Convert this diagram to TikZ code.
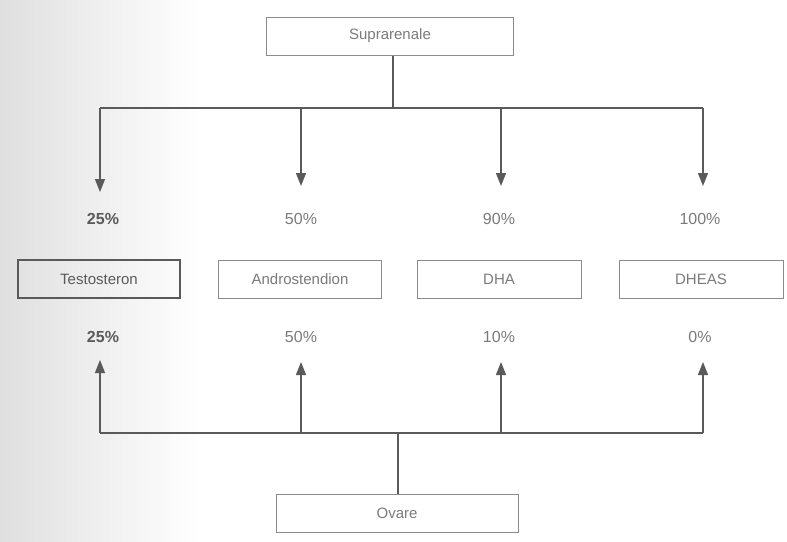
\documentclass[tikz,border=0pt]{standalone}
\usepackage{fontspec}
\setmainfont{Liberation Sans}
\usetikzlibrary{arrows.meta}
\definecolor{ink}{HTML}{5A5A5A}
\definecolor{txt}{HTML}{7A7A7A}
\begin{document}
\begin{tikzpicture}[x=1pt,y=-1pt,
  box/.style={draw=ink!70, line width=1pt, minimum height=38pt, inner sep=0pt, text=txt, font=\fontsize{15}{17}\selectfont},
  pct/.style={text=txt, font=\fontsize{16}{18}\selectfont, inner sep=0pt},
  link/.style={draw=ink, line width=1.3pt},
  arr/.style={link, -{Triangle[length=13pt,width=10pt]}}]
  % page frame and scanned gray band on the left
  \useasboundingbox (0,0) rectangle (787,541);
  \shade[left color=gray!25, right color=white] (0,0) rectangle (200,541);

  % boxes
  \node[box, minimum width=247pt] (sup) at (390,36) {Suprarenale};
  \node[box, minimum width=162pt, draw=ink, line width=1.4pt, text=ink] (tes) at (99,279) {Testosteron};
  \node[box, minimum width=163pt] (and) at (300,279) {Androstendion};
  \node[box, minimum width=164pt] (dha) at (499,279) {DHA};
  \node[box, minimum width=164pt] (dhe) at (701,279) {DHEAS};
  \node[box, minimum width=242pt] (ova) at (397,513) {Ovare};

  % percentages
  \node[pct, text=ink, font=\fontsize{16}{18}\bfseries\selectfont] (p1) at (103,219) {25\%};
  \node[pct] (p2) at (301,219) {50\%};
  \node[pct] (p3) at (499,219) {90\%};
  \node[pct] (p4) at (700,219) {100\%};
  \node[pct, text=ink, font=\fontsize{16}{18}\bfseries\selectfont] (q1) at (103,337) {25\%};
  \node[pct] (q2) at (301,337) {50\%};
  \node[pct] (q3) at (499,337) {10\%};
  \node[pct] (q4) at (700,337) {0\%};

  % junction points
  \coordinate (st) at (393,108);
  \coordinate (sb) at (398,433);
  \coordinate (t1) at (100,108);
  \coordinate (t2) at (301,108);
  \coordinate (t3) at (501,108);
  \coordinate (t4) at (703,108);
  \coordinate (b1) at (100,433);
  \coordinate (b2) at (301,433);
  \coordinate (b3) at (501,433);
  \coordinate (b4) at (703,433);
  \coordinate (e1) at (100,192);
  \coordinate (e2) at (301,186);
  \coordinate (e3) at (501,186);
  \coordinate (e4) at (703,186);
  \coordinate (f1) at (100,360);
  \coordinate (f2) at (301,362);
  \coordinate (f3) at (501,362);
  \coordinate (f4) at (703,362);

  % adrenal branch
  \draw[link] (sup.south -| st) -- (st);
  \draw[link] (t1) -- (t4);
  \draw[arr] (t1) -- (e1);
  \draw[arr] (t2) -- (e2);
  \draw[arr] (t3) -- (e3);
  \draw[arr] (t4) -- (e4);

  % ovarian branch
  \draw[link] (ova.north -| sb) -- (sb);
  \draw[link] (b1) -- (b4);
  \draw[arr] (b1) -- (f1);
  \draw[arr] (b2) -- (f2);
  \draw[arr] (b3) -- (f3);
  \draw[arr] (b4) -- (f4);
\end{tikzpicture}
\end{document}
